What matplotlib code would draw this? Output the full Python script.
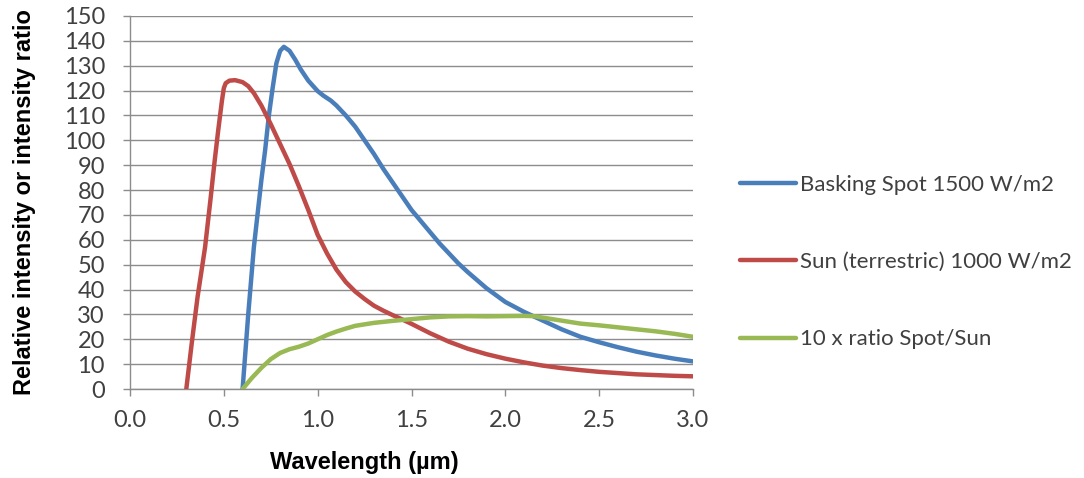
import matplotlib
matplotlib.use("Agg")
import matplotlib.pyplot as plt

# wavelength (um) and relative intensity
spot_x = [0.60, 0.63, 0.66, 0.70, 0.72, 0.74, 0.76, 0.78, 0.80, 0.82, 0.85, 0.88,
          0.91, 0.95, 1.00, 1.03, 1.07, 1.10, 1.15, 1.20, 1.25, 1.30, 1.35, 1.40,
          1.45, 1.50, 1.55, 1.60, 1.65, 1.70, 1.75, 1.80, 1.90, 2.00, 2.10, 2.20,
          2.30, 2.40, 2.50, 2.60, 2.70, 2.80, 2.90, 3.00]
spot_y = [0, 30, 57, 84, 96, 110, 121, 131, 136, 137.6, 136, 132.5,
          128.5, 124, 119.8, 118, 116, 114, 110, 105.5, 100, 94.5, 88.5, 83,
          77.5, 72, 67.5, 63, 58.5, 54.5, 50.5, 47, 40.5, 35, 31, 27.5,
          24, 21, 18.8, 16.8, 15, 13.5, 12.2, 11.1]

sun_x = [0.30, 0.33, 0.36, 0.40, 0.43, 0.45, 0.47, 0.49, 0.50, 0.51, 0.53, 0.56,
         0.60, 0.63, 0.66, 0.70, 0.75, 0.80, 0.85, 0.90, 0.95, 1.00, 1.05, 1.10,
         1.15, 1.20, 1.25, 1.30, 1.35, 1.40, 1.45, 1.50, 1.55, 1.60, 1.70, 1.80,
         1.90, 2.00, 2.10, 2.20, 2.30, 2.40, 2.50, 2.60, 2.70, 2.80, 2.90, 3.00]
sun_y = [0, 19, 37, 57, 77, 91, 104, 116, 121, 123, 124, 124.2,
         123.4, 121.8, 119, 114, 106.5, 98.5, 90.5, 81.5, 72, 62, 54.5, 48,
         43, 39.2, 36.2, 33.5, 31.5, 29.7, 28, 26.2, 24.3, 22.4, 19, 16.2,
         14, 12.2, 10.7, 9.4, 8.4, 7.6, 6.9, 6.4, 5.9, 5.6, 5.3, 5.1]

ratio_x = [0.60, 0.65, 0.70, 0.75, 0.80, 0.85, 0.90, 0.95, 1.00, 1.05, 1.10, 1.15,
           1.20, 1.30, 1.40, 1.50, 1.60, 1.70, 1.80, 1.90, 2.00, 2.10, 2.15, 2.20,
           2.30, 2.40, 2.50, 2.60, 2.70, 2.80, 2.90, 3.00]
ratio_y = [0, 4.5, 8.5, 12, 14.5, 16, 17, 18.3, 20, 21.7, 23.1, 24.3,
           25.4, 26.6, 27.4, 28.1, 28.8, 29.2, 29.3, 29.2, 29.3, 29.4, 29.3, 28.7,
           27.5, 26.3, 25.6, 24.8, 24, 23.2, 22.2, 21]

labels = ["Basking Spot 1500 W/m2", "Sun (terrestric) 1000 W/m2", "10 x ratio Spot/Sun"]
colors = ["#4A7EBB", "#BE4B48", "#98B954"]

x_ticks = [0.0, 0.5, 1.0, 1.5, 2.0, 2.5, 3.0]
y_ticks = list(range(0, 151, 10))

tick_font = "Lato"
label_font = "Liberation Sans"
grid_col = "#8C8C8C"
text_col = "#404040"

fig = plt.figure(figsize=(10.84, 4.78), dpi=100)
ax = fig.add_axes([130 / 1084, 89 / 478, 563 / 1084, 373 / 478])

for xs, ys, lab, c in zip([spot_x, sun_x, ratio_x], [spot_y, sun_y, ratio_y], labels, colors):
    ax.plot(xs, ys, color=c, lw=3.2, label=lab,
            solid_capstyle="round", solid_joinstyle="round", zorder=3)

ax.set_xlim(0, 3.0)
ax.set_ylim(0, 150)
ax.set_xticks(x_ticks)
ax.set_xticklabels([f"{t:.1f}" for t in x_ticks], fontfamily=tick_font, fontsize=17, color=text_col)
ax.set_yticks(y_ticks)
ax.set_yticklabels([str(t) for t in y_ticks], fontfamily=tick_font, fontsize=17, color=text_col)
ax.tick_params(axis="both", direction="out", length=5, width=1, color=grid_col)
ax.tick_params(axis="x", pad=10)
ax.tick_params(axis="y", pad=13)

ax.grid(axis="y", color=grid_col, lw=1)
ax.set_axisbelow(True)
for side in ["top", "right"]:
    ax.spines[side].set_visible(False)
for side in ["left", "bottom"]:
    ax.spines[side].set_color(grid_col)
    ax.spines[side].set_linewidth(1)

ax.set_xlabel("Wavelength (µm)", fontfamily=label_font, fontweight="bold", fontsize=17, va="center")
ax.set_ylabel("Relative intensity or intensity ratio", fontfamily=label_font,
              fontweight="bold", fontsize=17, va="center")
ax.xaxis.set_label_coords((364 - 130) / 563, (389 - 462) / 373)
ax.yaxis.set_label_coords((25 - 130) / 563, 0.5)

leg = fig.legend(loc="center left", bbox_to_anchor=(720 / 1084, 1 - 262 / 478),
                 frameon=False, prop={"family": tick_font, "size": 16},
                 handlelength=2.5, handletextpad=0.22, labelspacing=2.58)
for t in leg.get_texts():
    t.set_color(text_col)

fig.savefig("out.png", dpi=100)
